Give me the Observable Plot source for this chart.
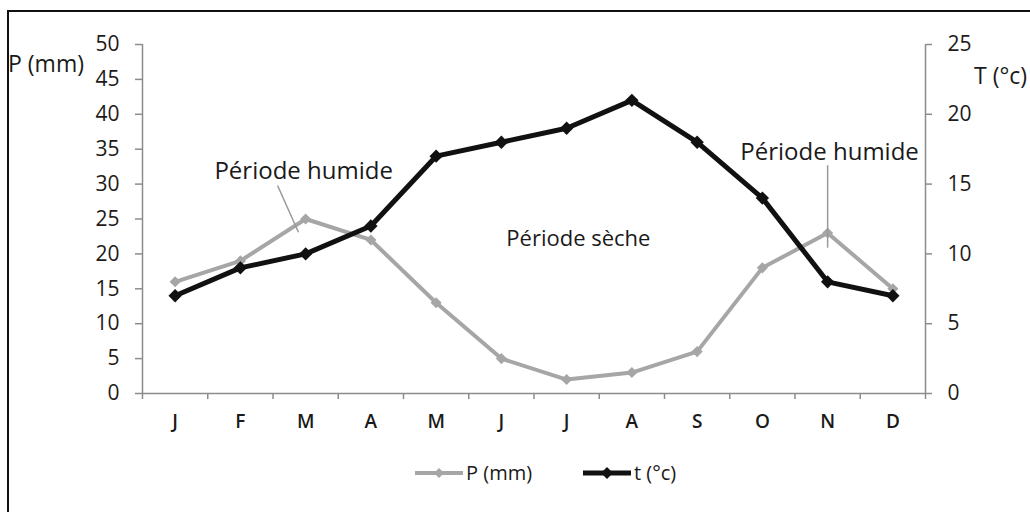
<!DOCTYPE html>
<html>
<head>
<meta charset="utf-8">
<script src="https://cdn.jsdelivr.net/npm/d3@7"></script>
<script src="https://cdn.jsdelivr.net/npm/@observablehq/plot@0.6"></script>
<style>
  body { margin: 0; background: #fff; font-family: "Open Sans", sans-serif; }
  #wrap { position: relative; width: 1030px; height: 512px; overflow: hidden; }
  #border { position: absolute; left: 7px; top: 10px; width: 1100px; height: 600px; border: 2px solid #111; box-sizing: border-box; }
  .atitle { position: absolute; font-size: 23px; color: #1a1a1a; white-space: nowrap; line-height: 1; }
  #legend { position: absolute; top: 461px; left: 0; width: 1030px; height: 24px; }
  .lg { position: absolute; top: 0; display: flex; align-items: center; font-size: 20px; color: #1a1a1a; line-height: 1; height: 24px; }
  #chart { position: absolute; left: 0; top: 0; }
</style>
</head>
<body>
<div id="wrap">
  <div id="border"></div>
  <div id="chart"></div>
  <div class="atitle" style="left:8px; top:52px;">P (mm)</div>
  <div class="atitle" style="left:974px; top:64px;">T (°c)</div>
  <div id="legend"></div>
</div>
<script>
// ---- Data ----
const months = ["J","F","M","A","M","J","J","A","S","O","N","D"];
const precip = [16, 19, 25, 22, 13, 5, 2, 3, 6, 18, 23, 15];   // P (mm), left axis
const temp   = [7, 9, 10, 12, 17, 18, 19, 21, 18, 14, 8, 7];    // t (°c), right axis
const pTicks = [0, 5, 10, 15, 20, 25, 30, 35, 40, 45, 50];
const tTicks = [0, 5, 10, 15, 20, 25];
const noteText = ["Période humide", "Période humide", "Période sèche"];
const noteX = [2.47, 10.53, 6.68];
const noteY = [31.9, 34.5, 22.2];
const noteSize = [24, 24, 22];
const leaderX1 = [2.07, 10.5];
const leaderY1 = [29.8, 32.7];
const leaderX2 = [2.39, 10.5];
const leaderY2 = [23.1, 20.9];

// ---- Tables built from arrays ----
const data = months.map((m, i) => ({ i, m, p: precip[i], t: temp[i] }));
const notes = noteText.map((text, k) => ({ text, x: noteX[k], y: noteY[k], size: noteSize[k] }));
const leaders = leaderX1.map((x1, k) => ({ x1, y1: leaderY1[k], x2: leaderX2[k], y2: leaderY2[k] }));
const tScale = 50 / 25; // right axis maps 0-25 onto 0-50
const gray = "#a6a6a6";
const axisGray = "#8c8c8c";

const chart = Plot.plot({
  width: 1030,
  height: 512,
  marginLeft: 142,
  marginRight: 105,
  marginTop: 44,
  marginBottom: 119,
  style: { fontFamily: "Open Sans", background: "transparent", color: "#1a1a1a" },
  x: { domain: [0, 12] },
  y: { domain: [0, 50] },
  marks: [
    Plot.ruleX([0, 12], { stroke: axisGray, strokeWidth: 1.5 }),
    Plot.ruleY([0], { stroke: axisGray, strokeWidth: 1.5 }),
    Plot.axisX({ ticks: d3.range(0, 13), tickSize: 6, text: null, stroke: axisGray, strokeWidth: 1.5, label: null }),
    Plot.axisX({ ticks: months.map((m, i) => i + 0.5), tickFormat: v => months[Math.floor(v)], tickSize: 0, tickPadding: 21, fontSize: 19, fontWeight: 600, fill: "#1a1a1a", label: null }),
    Plot.axisY({ anchor: "left", ticks: pTicks, tickSize: 7, text: null, stroke: axisGray, strokeWidth: 1.5, label: null }),
    Plot.axisY({ anchor: "left", ticks: pTicks, tickSize: 0, tickPadding: 23, fontSize: 21, fill: "#221a18", label: null }),
    Plot.axisY({ anchor: "right", ticks: tTicks.map(v => v * tScale), tickSize: 6, text: null, stroke: axisGray, strokeWidth: 1.5, label: null }),
    Plot.axisY({ anchor: "right", ticks: tTicks.map(v => v * tScale), tickFormat: v => v / tScale, tickSize: 0, tickPadding: 22, fontSize: 21, fill: "#221a18", label: null }),
    Plot.line(data, { x: d => d.i + 0.5, y: "p", stroke: gray, strokeWidth: 4 }),
    Plot.dot(data, { x: d => d.i + 0.5, y: "p", symbol: "diamond2", r: 5, fill: gray }),
    Plot.line(data, { x: d => d.i + 0.5, y: d => d.t * tScale, stroke: "#111", strokeWidth: 5 }),
    Plot.dot(data, { x: d => d.i + 0.5, y: d => d.t * tScale, symbol: "diamond2", r: 6, fill: "#111" }),
    Plot.link(leaders, { x1: "x1", y1: "y1", x2: "x2", y2: "y2", stroke: "#999", strokeWidth: 1.5 }),
    ...notes.map(n => Plot.text([n], { x: "x", y: "y", text: "text", fontSize: n.size, fill: "#1a1a1a" }))
  ]
});
document.getElementById("chart").appendChild(chart);

// ---- Legend ----
const legendItems = [
  { label: "P (mm)", color: gray, w: 4, r: 5, left: 415 },
  { label: "t (°c)", color: "#111", w: 5, r: 6, left: 583 }
];
const legend = document.getElementById("legend");
legendItems.forEach(it => {
  const div = document.createElement("div");
  div.className = "lg";
  div.style.left = it.left + "px";
  div.innerHTML = `<svg width="49" height="24" style="margin-right:2px"><line x1="0" x2="48" y1="12" y2="12" stroke="${it.color}" stroke-width="${it.w}"/><path d="M24,${12 - it.r}L${24 + it.r},12L24,${12 + it.r}L${24 - it.r},12Z" fill="${it.color}"/></svg><span>${it.label}</span>`;
  legend.appendChild(div);
});
</script>
</body>
</html>
